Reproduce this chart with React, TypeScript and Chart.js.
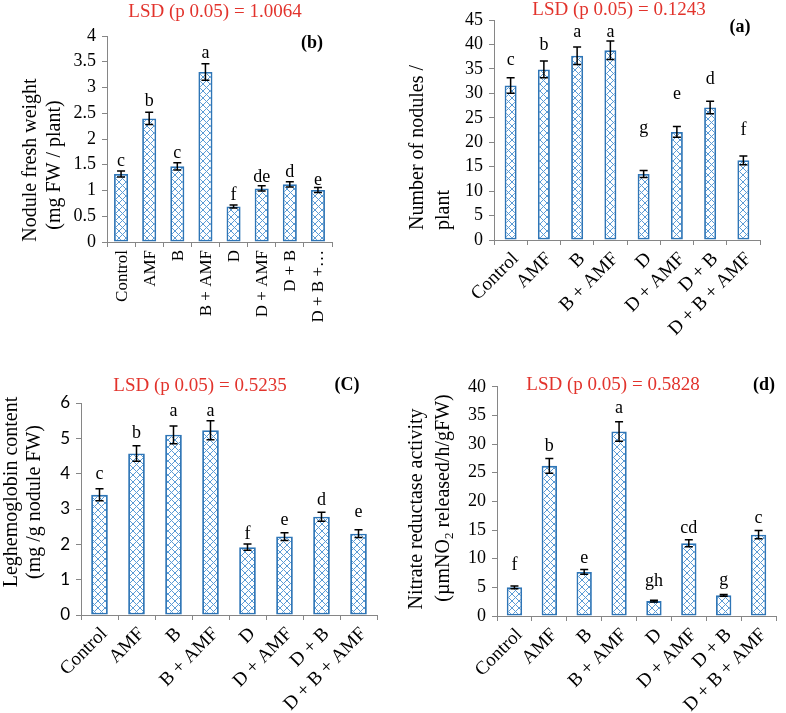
import React, { useEffect, useRef } from 'react';
import { Chart, registerables } from 'chart.js';
Chart.register(...registerables);

// ---------- data ----------
const treatments = ['Control', 'AMF', 'B', 'B + AMF', 'D', 'D + AMF', 'D + B', 'D + B + AMF'];
const treatmentsTruncated = ['Control', 'AMF', 'B', 'B + AMF', 'D', 'D + AMF', 'D + B', 'D + B +…'];

const freshWeight = [1.32, 2.4, 1.47, 3.3, 0.69, 1.04, 1.12, 1.01];
const freshWeightErr = [0.06, 0.12, 0.07, 0.16, 0.03, 0.05, 0.05, 0.05];
const freshWeightLetters = ['c', 'b', 'c', 'a', 'f', 'de', 'd', 'e'];
const freshWeightAxis = [0, 4, 0.5];

const noduleCount = [31.6, 34.9, 37.7, 38.8, 13.5, 22.1, 27.1, 16.3];
const noduleCountErr = [1.6, 1.7, 1.8, 1.9, 0.7, 1.1, 1.3, 0.9];
const noduleCountLetters = ['c', 'b', 'a', 'a', 'g', 'e', 'd', 'f'];
const noduleCountAxis = [0, 45, 5];

const leghemoglobin = [3.4, 4.57, 5.1, 5.23, 1.92, 2.22, 2.78, 2.3];
const leghemoglobinErr = [0.17, 0.22, 0.25, 0.27, 0.09, 0.11, 0.13, 0.11];
const leghemoglobinLetters = ['c', 'b', 'a', 'a', 'f', 'e', 'd', 'e'];
const leghemoglobinAxis = [0, 6, 1];

const nitrateReductase = [5.0, 26.2, 7.7, 32.2, 2.6, 12.7, 3.6, 14.2];
const nitrateReductaseErr = [0.25, 1.3, 0.4, 1.7, 0.15, 0.6, 0.15, 0.7];
const nitrateReductaseLetters = ['f', 'b', 'e', 'a', 'gh', 'cd', 'g', 'c'];
const nitrateReductaseAxis = [0, 40, 5];

const lsdTexts = ['LSD (p 0.05) = 1.0064', 'LSD (p 0.05) = 0.1243', 'LSD (p 0.05) = 0.5235', 'LSD (p 0.05) = 0.5828'];
const panelTags = ['(b)', '(a)', '(C)', '(d)'];

// ---------- styles ----------
const SERIF = "'Liberation Serif', 'Times New Roman', serif";
const SANS = "Lato, 'Liberation Sans', sans-serif";
const AXIS_GRAY = '#868686';
const BAR_BLUE = '#2e75b6';
const LSD_RED = '#e2332c';

type Seg = { t: string; sub?: boolean };
type TitleLine = { x: number; y: number; align: 'center' | 'left'; segs: Seg[] };

type Panel = {
  left: number; top: number; width: number; height: number;
  axisW: number; axisH: number; padTop: number; padRight: number;
  labels: string[]; values: number[]; errors: number[]; letters: string[]; gaps: number[];
  axis: number[]; yFont: string; yFontSize: number;
  xFontSize: number; rotation: number; labelShift: number; barPct: number;
  lsd: string; lsdX: number; lsdY: number;
  tag: string; tagX: number; tagY: number;
  titles: TitleLine[];
};

const panels: Panel[] = [
  {
    left: 0, top: 0, width: 393, height: 370,
    axisW: 107, axisH: 128, padTop: 36, padRight: 61,
    labels: treatmentsTruncated, values: freshWeight, errors: freshWeightErr, letters: freshWeightLetters,
    gaps: [5, 6, 5, 6, 5, 4, 5, 2],
    axis: freshWeightAxis, yFont: SERIF, yFontSize: 18,
    xFontSize: 17, rotation: 90, labelShift: 1, barPct: 0.5,
    lsd: lsdTexts[0], lsdX: 215, lsdY: 12,
    tag: panelTags[0], tagX: 312, tagY: 43,
    titles: [
      { x: 31, y: 160, align: 'center', segs: [{ t: 'Nodule fresh weight' }] },
      { x: 55, y: 165, align: 'center', segs: [{ t: '(mg FW / plant)' }] },
    ],
  },
  {
    left: 393, top: 0, width: 393, height: 370,
    axisW: 101, axisH: 130, padTop: 20, padRight: 26,
    labels: treatments, values: noduleCount, errors: noduleCountErr, letters: noduleCountLetters,
    gaps: [13, 11, 10, 4, 38, 28, 17, 21],
    axis: noduleCountAxis, yFont: SERIF, yFontSize: 18,
    xFontSize: 19, rotation: 45, labelShift: 5, barPct: 0.36,
    lsd: lsdTexts[1], lsdX: 226, lsdY: 10,
    tag: panelTags[1], tagX: 347, tagY: 27,
    titles: [
      { x: 25, y: 230, align: 'left', segs: [{ t: 'Number of nodules /' }] },
      { x: 51, y: 230, align: 'left', segs: [{ t: 'plant' }] },
    ],
  },
  {
    left: 0, top: 370, width: 393, height: 343,
    axisW: 81, axisH: 98, padTop: 33, padRight: 16,
    labels: treatments, values: leghemoglobin, errors: leghemoglobinErr, letters: leghemoglobinLetters,
    gaps: [10, 8, 10, 5, 5, 8, 7, 13],
    axis: leghemoglobinAxis, yFont: SANS, yFontSize: 17,
    xFontSize: 19, rotation: 45, labelShift: 5, barPct: 0.45,
    lsd: lsdTexts[2], lsdX: 200, lsdY: 16,
    tag: panelTags[2], tagX: 347, tagY: 15,
    titles: [
      { x: 12, y: 122, align: 'center', segs: [{ t: 'Leghemoglobin content' }] },
      { x: 35, y: 132, align: 'center', segs: [{ t: '(mg /g nodule FW)' }] },
    ],
  },
  {
    left: 393, top: 370, width: 393, height: 343,
    axisW: 104, axisH: 97, padTop: 11, padRight: 10,
    labels: treatments, values: nitrateReductase, errors: nitrateReductaseErr, letters: nitrateReductaseLetters,
    gaps: [16, 7, 7, 9, 14, 7, 10, 8],
    axis: nitrateReductaseAxis, yFont: SERIF, yFontSize: 18,
    xFontSize: 19, rotation: 45, labelShift: 5, barPct: 0.44,
    lsd: lsdTexts[3], lsdX: 220, lsdY: 15,
    tag: panelTags[3], tagX: 371, tagY: 15,
    titles: [
      { x: 24, y: 139, align: 'center', segs: [{ t: 'Nitrate reductase activity' }] },
      { x: 51, y: 128, align: 'center', segs: [{ t: '(µmNO' }, { t: '2', sub: true }, { t: ' released/h/gFW)' }] },
    ],
  },
];

function makeHatch(): CanvasPattern | string {
  const s = 7;
  const c = document.createElement('canvas');
  c.width = s; c.height = s;
  const g = c.getContext('2d');
  if (!g) return '#ffffff';
  g.fillStyle = '#ffffff';
  g.fillRect(0, 0, s, s);
  g.strokeStyle = '#5b9bd5';
  g.lineWidth = 1;
  g.beginPath();
  for (const off of [-s, 0, s]) {
    g.moveTo(off, 0); g.lineTo(off + s, s);
    g.moveTo(off + s, 0); g.lineTo(off, s);
  }
  g.stroke();
  const p = g.createPattern(c, 'repeat');
  return p || '#ffffff';
}

function makeAnnotPlugin(p: Panel) {
  return {
    id: 'annot',
    afterDatasetsDraw(chart: any) {
      const ctx: CanvasRenderingContext2D = chart.ctx;
      const meta = chart.getDatasetMeta(0);
      const ys = chart.scales.y;
      ctx.save();
      // error bars + letters
      meta.data.forEach((bar: any, i: number) => {
        const v = p.values[i];
        const e = p.errors[i];
        const x = bar.x;
        const yt = ys.getPixelForValue(v + e);
        const yb = ys.getPixelForValue(v - e);
        ctx.strokeStyle = '#000';
        ctx.lineWidth = 1.5;
        ctx.beginPath();
        ctx.moveTo(x, yt); ctx.lineTo(x, yb);
        ctx.moveTo(x - 4, yt); ctx.lineTo(x + 4, yt);
        ctx.moveTo(x - 4, yb); ctx.lineTo(x + 4, yb);
        ctx.stroke();
        ctx.fillStyle = '#000';
        ctx.font = `18px ${SERIF}`;
        ctx.textAlign = 'center';
        ctx.textBaseline = 'alphabetic';
        ctx.fillText(p.letters[i], x, yt - p.gaps[i]);
      });
      // LSD text
      ctx.fillStyle = LSD_RED;
      ctx.font = `19px ${SERIF}`;
      ctx.textAlign = 'center';
      ctx.textBaseline = 'middle';
      ctx.fillText(p.lsd, p.lsdX, p.lsdY);
      // panel tag
      ctx.fillStyle = '#000';
      ctx.font = `bold 18px ${SERIF}`;
      ctx.fillText(p.tag, p.tagX, p.tagY);
      // y titles
      for (const line of p.titles) {
        ctx.save();
        ctx.translate(line.x, line.y);
        ctx.rotate(-Math.PI / 2);
        ctx.textBaseline = 'middle';
        ctx.textAlign = 'left';
        const widths = line.segs.map((s) => {
          ctx.font = `${s.sub ? 13 : 20}px ${SERIF}`;
          return ctx.measureText(s.t).width;
        });
        const total = widths.reduce((a, b) => a + b, 0);
        let cx = line.align === 'center' ? -total / 2 : 0;
        line.segs.forEach((s, k) => {
          ctx.font = `${s.sub ? 13 : 20}px ${SERIF}`;
          ctx.fillText(s.t, cx, s.sub ? 6 : 0);
          cx += widths[k];
        });
        ctx.restore();
      }
      ctx.restore();
    },
  };
}

function PanelChart({ p }: { p: Panel }) {
  const ref = useRef<HTMLCanvasElement | null>(null);
  useEffect(() => {
    if (!ref.current) return;
    const hatch = makeHatch();
    const chart = new Chart(ref.current, {
      type: 'bar',
      data: {
        labels: p.labels,
        datasets: [
          {
            data: p.values,
            backgroundColor: hatch as any,
            borderColor: BAR_BLUE,
            borderWidth: 1.8,
            borderSkipped: false,
            barPercentage: p.barPct,
            categoryPercentage: 1,
          },
        ],
      },
      options: {
        responsive: false,
        animation: false,
        layout: { padding: { top: p.padTop, right: p.padRight, left: 0, bottom: 0 } },
        plugins: { legend: { display: false }, tooltip: { enabled: false }, title: { display: false } },
        scales: {
          x: {
            type: 'category',
            offset: true,
            grid: { offset: true, drawOnChartArea: false, drawTicks: true, tickLength: 5, color: AXIS_GRAY },
            border: { display: true, color: AXIS_GRAY, width: 1 },
            ticks: {
              autoSkip: false,
              maxRotation: p.rotation,
              minRotation: p.rotation,
              labelOffset: p.labelShift,
              color: '#000',
              padding: 3,
              font: { family: SERIF, size: p.xFontSize },
            },
            afterFit: (s: any) => { s.height = p.axisH; },
          },
          y: {
            min: p.axis[0],
            max: p.axis[1],
            ticks: {
              stepSize: p.axis[2],
              autoSkip: false,
              color: '#000',
              padding: 6,
              font: { family: p.yFont, size: p.yFontSize },
              callback: (v: any) => String(Math.round(Number(v) * 100) / 100),
            },
            grid: { drawOnChartArea: false, drawTicks: true, tickLength: 5, color: AXIS_GRAY },
            border: { display: true, color: AXIS_GRAY, width: 1 },
            title: { display: false },
            afterFit: (s: any) => { s.width = p.axisW; },
          },
        },
      },
      plugins: [makeAnnotPlugin(p)],
    } as any);
    return () => chart.destroy();
  }, [p]);
  return (
    <div style={{ position: 'absolute', left: p.left, top: p.top, width: p.width, height: p.height }}>
      <canvas ref={ref} width={p.width} height={p.height} style={{ width: p.width, height: p.height, display: 'block' }} />
    </div>
  );
}

export default function App() {
  return (
    <div style={{ position: 'absolute', left: 0, top: 0, width: 786, height: 713, background: '#fff' }}>
      {panels.map((p, i) => (
        <PanelChart key={i} p={p} />
      ))}
    </div>
  );
}
